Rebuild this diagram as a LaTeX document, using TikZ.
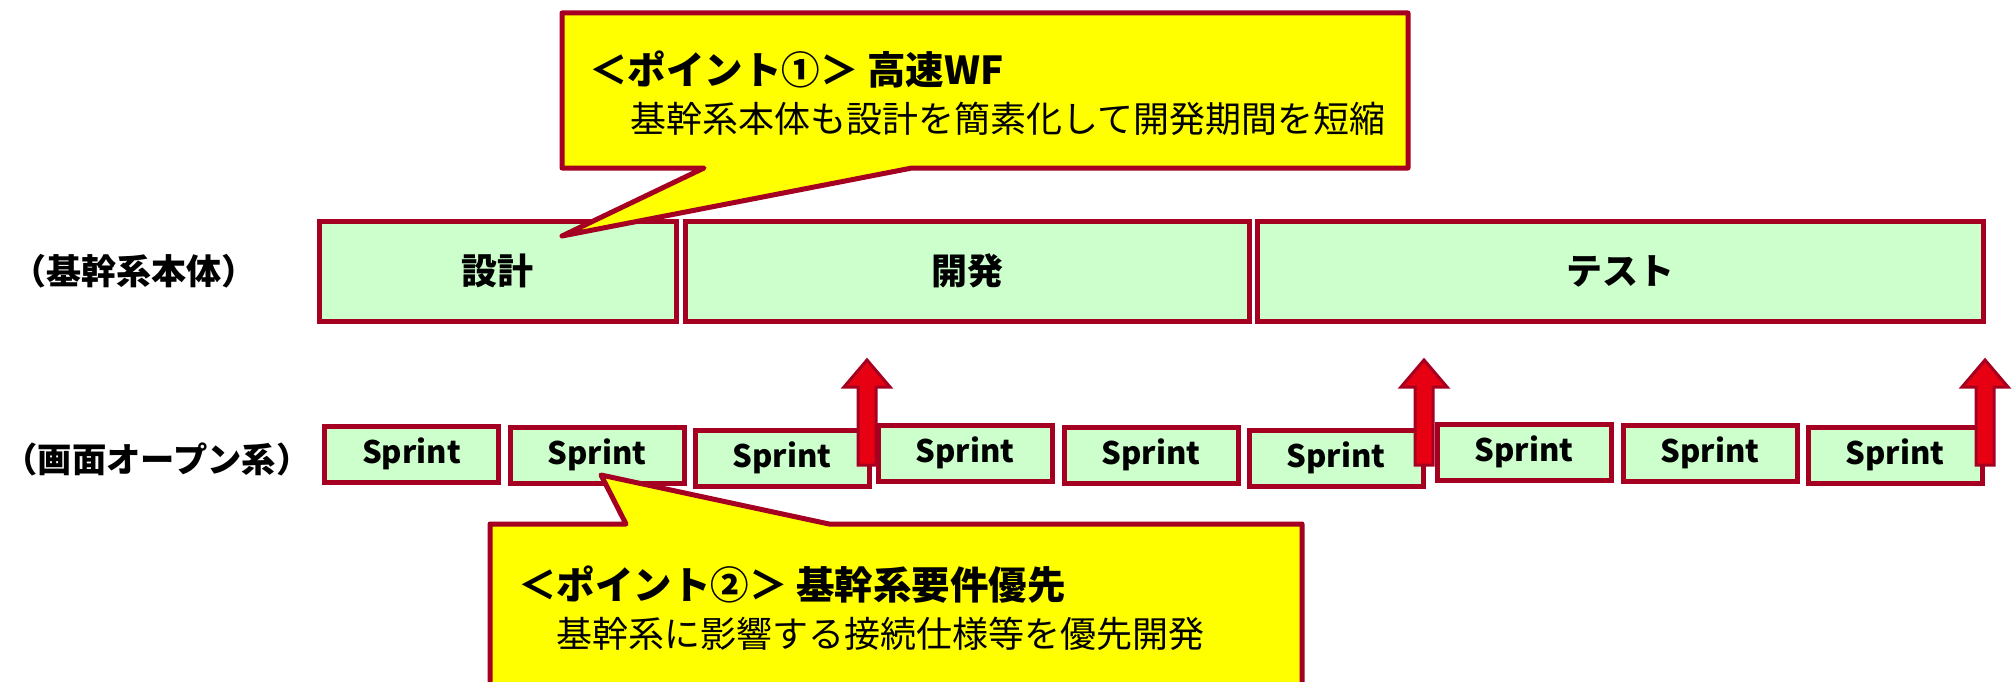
\documentclass[tikz,border=0pt]{standalone}
\usepackage{fontspec}
\setmainfont{Noto Sans CJK JP}
\definecolor{dred}{HTML}{A50021}
\definecolor{lgreen}{HTML}{CCFFCC}
\definecolor{ared}{HTML}{E60012}
\definecolor{cyell}{HTML}{FFFF00}
\begin{document}
\begin{tikzpicture}[x=1pt,y=-1pt,
  phase/.style={draw=dred,line width=5pt,fill=lgreen,inner sep=0pt,font=\fontsize{36}{40}\selectfont\bfseries},
  sprint/.style={draw=dred,line width=5pt,fill=lgreen,inner sep=0pt,minimum width=174pt,minimum height=56pt,font=\fontsize{31}{34}\selectfont\bfseries},
  callout/.style={draw=dred,line width=5pt,fill=cyell,line join=round},
  upar/.style={draw=dred,line width=3pt,fill=ared},
  rowlab/.style={inner sep=0pt,font=\fontsize{35}{40}\selectfont\bfseries},
  ctitle/.style={anchor=west,inner sep=0pt,font=\fontsize{38.5}{42}\selectfont\bfseries},
  cline/.style={anchor=west,inner sep=0pt,font=\fontsize{36}{40}\selectfont}]
\useasboundingbox (0,0) rectangle (2015,682);
\clip (0,0) rectangle (2015,682);
% row labels
\node[rowlab] (lab1) at (134,271) {（基幹系本体）};
\node[rowlab,font=\fontsize{34.3}{40}\selectfont\bfseries] (lab2) at (157,459) {（画面オープン系）};
% top phases
\node[phase,minimum width=357pt,minimum height=100pt] (p1) at (497.5,271) {設計};
\node[phase,minimum width=564pt,minimum height=100pt] (p2) at (967,271) {開発};
\node[phase,minimum width=726pt,minimum height=100pt] (p3) at (1620,271) {テスト};
% sprints
\node[sprint] (s1) at (411.5,454) {Sprint};
\node[sprint] (s2) at (597,455) {Sprint};
\node[sprint] (s3) at (782,458) {Sprint};
\node[sprint] (s4) at (965,453) {Sprint};
\node[sprint] (s5) at (1151,455) {Sprint};
\node[sprint] (s6) at (1336,458) {Sprint};
\node[sprint] (s7) at (1524,452) {Sprint};
\node[sprint] (s8) at (1710,453) {Sprint};
\node[sprint] (s9) at (1895,455) {Sprint};
% up arrows
\foreach \ax in {867,1424,1985}{
  \draw[upar] (\ax-9,465) -- (\ax-9,387) -- (\ax-23,387) -- (\ax,360) -- (\ax+23,387) -- (\ax+9,387) -- (\ax+9,465) -- cycle;
}
% callout 1
\draw[callout] (562,13) -- (1408,13) -- (1408,168) -- (912,168) -- (562,236) -- (704,168) -- (562,168) -- cycle;
\node[ctitle] (c1t) at (589,70) {＜ポイント①＞ 高速WF};
\node[cline] (c1l) at (630,119) {基幹系本体も設計を簡素化して開発期間を短縮};
% callout 2
\draw[callout] (490,524) -- (626,524) -- (601,475) -- (829,524) -- (1302,524) -- (1302,700) -- (490,700) -- cycle;
\node[ctitle] (c2t) at (518,585) {＜ポイント②＞ 基幹系要件優先};
\node[cline] (c2l) at (556,634) {基幹系に影響する接続仕様等を優先開発};
\end{tikzpicture}
\end{document}
